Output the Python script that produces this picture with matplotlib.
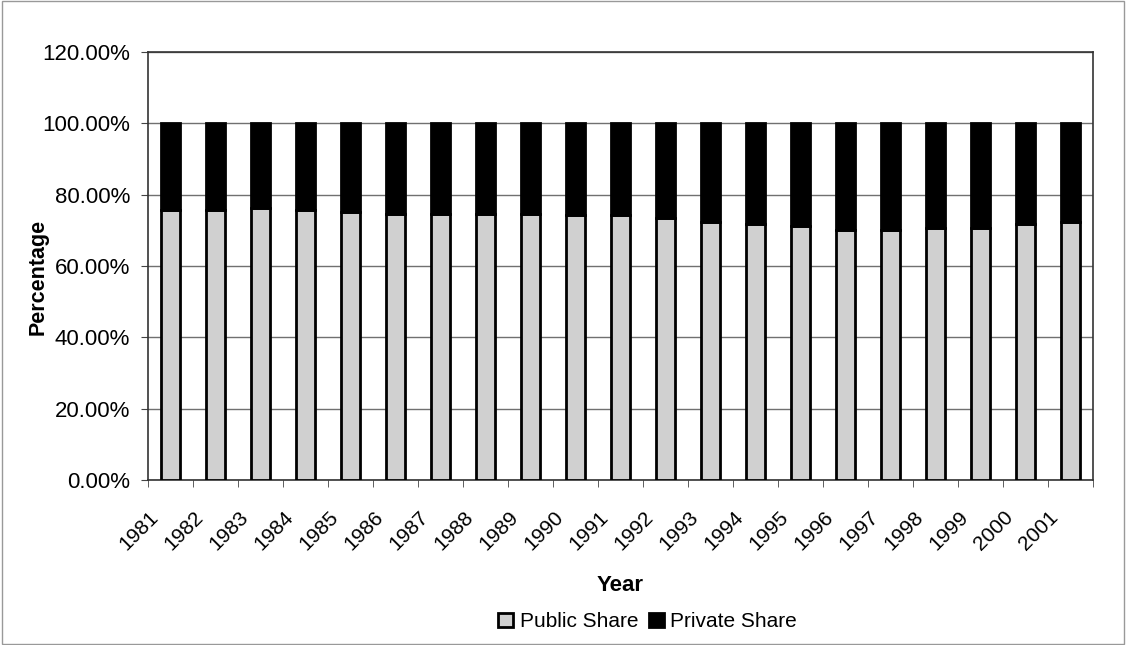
import matplotlib.pyplot as plt
import matplotlib.transforms as mtransforms
import numpy as np
from matplotlib.ticker import FuncFormatter, FixedLocator, NullFormatter

plt.rcParams['font.family'] = ['Liberation Sans', 'DejaVu Sans']

years = [str(y) for y in range(1981, 2002)]
public_share = [75.7, 75.7, 76.3, 75.7, 75.1, 74.6, 74.5, 74.5, 74.6, 74.2, 74.2,
                73.4, 72.4, 71.7, 71.1, 70.1, 70.0, 70.6, 70.6, 71.7, 72.4]
private_share = [100 - p for p in public_share]

fig = plt.figure(figsize=(11.26, 6.45), dpi=100)
ax = fig.add_axes([0.1314, 0.2558, 0.8393, 0.6636])

x = np.arange(len(years))
ax.bar(x, public_share, width=0.43, color='#d0d0d0', edgecolor='black',
       linewidth=2, label='Public Share', zorder=3)
ax.bar(x, private_share, width=0.43, bottom=public_share, color='black',
       edgecolor='black', linewidth=2, label='Private Share', zorder=3)

ax.set_xlim(-0.5, len(years) - 0.5)
ax.set_ylim(0, 120)
ax.set_yticks(np.arange(0, 121, 20))
ax.yaxis.set_major_formatter(FuncFormatter(lambda v, _: f'{v:.2f}%'))
ax.yaxis.grid(True, color='#707070', linewidth=1.0, zorder=0)

# category labels centred, tick marks between categories
ax.set_xticks(x)
ax.set_xticklabels(years, rotation=45, ha='right', rotation_mode='anchor')
ax.tick_params(axis='x', which='major', length=0, pad=20, labelsize=15)
ax.xaxis.set_minor_locator(FixedLocator(np.arange(-0.5, len(years), 1)))
ax.xaxis.set_minor_formatter(NullFormatter())
ax.tick_params(axis='x', which='minor', length=5, direction='out', color='#444444')
ax.tick_params(axis='y', length=5, labelsize=16, color='#444444', pad=8)

shift = mtransforms.ScaledTranslation(-22 / 100, 0, fig.dpi_scale_trans)
for lbl in ax.get_xticklabels():
    lbl.set_transform(lbl.get_transform() + shift)

for s in ax.spines.values():
    s.set_color('#333333')
    s.set_linewidth(1.2)

ax.set_ylabel('Percentage', fontsize=15.5, fontweight='bold')
ax.yaxis.set_label_coords(-0.105, 0.475)
ax.set_xlabel('Year', fontsize=16, fontweight='bold')
ax.xaxis.set_label_coords(0.5, -0.222)

fig.legend(loc='center', bbox_to_anchor=(0.575, 0.036), ncol=2, frameon=False,
           fontsize=15, handlelength=0.72, handleheight=0.72, handletextpad=0.3,
           columnspacing=0.5)

# outer chart frame
fig.patches.append(plt.Rectangle((0.002, 0.002), 0.996, 0.996, transform=fig.transFigure,
                                 fill=False, edgecolor='#999999', linewidth=1))

fig.savefig('out.png', dpi=100)
